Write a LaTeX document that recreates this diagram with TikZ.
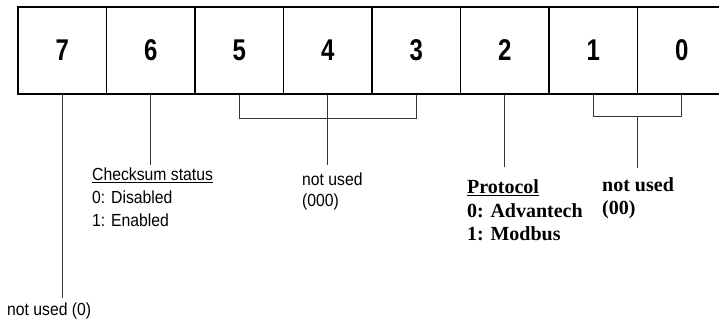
\documentclass[tikz,border=0pt]{standalone}
\usepackage{fontspec}
\setmainfont{Liberation Sans}
\newfontfamily\narrowsans[FakeStretch=0.9]{Liberation Sans}
\newfontfamily\digitfont[FakeStretch=0.8]{Liberation Sans}
\newfontfamily\serifbold{Liberation Serif}
\usetikzlibrary{positioning, calc}

\begin{document}
\begin{tikzpicture}[x=1pt,y=-1pt]
    \tikzset{bitbox/.style={draw,line width=1.3,minimum width=88.5pt,minimum height=87pt,inner sep=0,
        font=\digitfont\bfseries\fontsize{30}{30}\selectfont}}
    \tikzset{lead/.style={line width=0.8,black!80}}
    \tikzset{sanslabel/.style={anchor=north west,inner sep=0,align=left,font=\narrowsans\fontsize{17.5}{23}\selectfont}}
    \tikzset{seriflabel/.style={anchor=north west,inner sep=0,align=left,font=\serifbold\bfseries\fontsize{20}{23.5}\selectfont}}
    \useasboundingbox (0,0) rectangle (719,320);
    \def\bw{88.5}

    \foreach \b in {0,...,7}
      \node[bitbox] (b\b) at ({18+\bw*(7.5-\b)},50.5) {\b};

    \node[sanslabel] (n7) at (7,303) {not used (0)};
    \node[sanslabel] (n6) at (92,168) {\underline{Checksum status}\\0: Disabled\\1: Enabled};
    \node[sanslabel,font=\narrowsans\fontsize{17.5}{21}\selectfont] (n543) at (302,173) {not used\\(000)};
    \node[seriflabel] (n2) at (467,179.5) {\underline{Protocol}\\0: Advantech\\1: Modbus};
    \node[seriflabel,font=\serifbold\bfseries\fontsize{20}{23}\selectfont] (n10) at (602,177.5) {not used\\(00)};

    \draw[lead] (b7.south) -- ($(b7.south |- n7.north)+(0,-5)$);
    \draw[lead] (b6.south) -- ($(b6.south |- n6.north)+(0,-3)$);
    \draw[lead] (b5.south) -- ++(0,24) -| (b3.south);
    \draw[lead] (b4.south) -- ($(b4.south |- n543.north)+(0,-8)$);
    \draw[lead] (b2.south) -- ($(b2.south |- n2.north)+(0,-12.5)$);
    \draw[lead] (b1.south) -- ++(0,22) -| (b0.south);
    \coordinate (m10) at ($(b1.south)!0.5!(b0.south)+(0,22)$);
    \draw[lead] (m10) -- ($(m10 |- n10.north)+(0,-9.5)$);
  \end{tikzpicture}
\end{document}
